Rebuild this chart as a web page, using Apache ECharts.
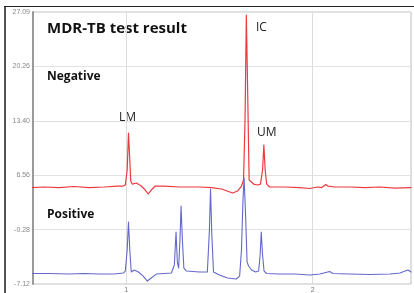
<!DOCTYPE html>
<html><head><meta charset="utf-8">
<script src="https://cdn.jsdelivr.net/npm/echarts@6/dist/echarts.min.js"></script>
<style>html,body{margin:0;padding:0;background:#fff}#c{width:414px;height:293px}</style>
</head><body><div id="c"></div>
<script>
const yTickLabels = ['-7.12', '-0.28', '6.56', '13.40', '20.26', '27.09'];
const xTickLabels = {1: '1', 2: '2'};
const yMin = -7.12, yMax = 27.09;
const xMin = 0.5, xMax = 2.527;

const redX = [0.495,0.559,0.640,0.720,0.801,0.882,0.952,0.984,0.995,1.005,1.012,1.019,1.024,1.032,1.054,1.081,1.102,1.118,1.134,1.156,1.204,1.285,1.392,1.457,1.511,1.570,1.597,1.618,1.629,1.637,1.644,1.651,1.659,1.667,1.683,1.704,1.720,1.731,1.738,1.745,1.753,1.769,1.849,1.930,1.984,2.027,2.048,2.070,2.081,2.118,2.199,2.280,2.360,2.441,2.527];
const redY = [5.01,5.08,5.01,5.14,5.01,5.08,5.20,5.20,5.33,7.22,11.87,8.47,5.83,5.45,5.58,5.20,4.70,4.20,4.70,5.20,5.20,5.08,5.08,5.01,4.83,4.32,4.57,5.20,5.96,13.51,26.71,17.28,5.96,5.71,5.45,5.33,5.45,7.22,10.36,7.22,5.45,5.08,5.08,5.01,4.89,5.08,5.01,5.39,5.20,5.08,5.08,5.01,5.08,4.95,5.01];

const blueX = [0.495,0.586,0.694,0.774,0.855,0.935,0.984,0.995,1.005,1.012,1.019,1.027,1.043,1.065,1.091,1.113,1.134,1.161,1.204,1.242,1.258,1.267,1.274,1.281,1.288,1.294,1.301,1.309,1.323,1.392,1.435,1.446,1.452,1.459,1.468,1.500,1.543,1.590,1.608,1.618,1.626,1.632,1.640,1.648,1.656,1.672,1.694,1.710,1.718,1.724,1.731,1.739,1.753,1.823,1.903,1.984,2.038,2.070,2.091,2.108,2.199,2.306,2.414,2.468,2.495,2.511,2.527];
const blueY = [-5.80,-5.80,-5.87,-5.80,-5.87,-5.87,-5.74,-5.49,-2.85,0.67,-2.85,-5.61,-5.36,-5.61,-6.12,-6.75,-6.37,-5.87,-5.80,-5.74,-4.73,-0.58,-4.36,-5.11,-1.59,2.69,-1.59,-5.11,-5.49,-5.61,-5.61,-0.33,4.83,-0.96,-5.61,-5.99,-6.37,-6.49,-6.12,-2.85,3.44,6.21,1.56,-4.36,-4.86,-5.36,-5.61,-5.49,-3.48,-0.58,-3.48,-5.49,-5.80,-5.87,-5.87,-5.99,-5.87,-5.68,-5.55,-5.80,-5.87,-5.93,-5.87,-5.74,-5.49,-5.36,-5.61];

const pairs = (xs, ys) => xs.map((x, i) => [x, ys[i]]);

const chart = echarts.init(document.getElementById('c'), null, {renderer: 'canvas'});
chart.setOption({
  animation: false,
  backgroundColor: '#fff',
  grid: {left: 33, top: 12, right: 3, bottom: 9, show: true, borderColor: '#c0c0c0', borderWidth: 1,
    outerBoundsMode: 'none', containLabel: false},
  xAxis: {
    type: 'value', min: xMin, max: xMax, interval: 0.5,
    axisLine: {show: false},
    axisTick: {show: false},
    axisLabel: {fontSize: 7, color: '#777', margin: 3, fontFamily: 'Liberation Sans',
      formatter: v => xTickLabels[v] || '', showMinLabel: false, showMaxLabel: false},
    splitLine: {show: true, lineStyle: {color: ['rgba(0,0,0,0)', '#dcdcdc'], width: 1}}
  },
  yAxis: [{
    type: 'value', min: 0, max: 5, interval: 1,
    name: 'RFU', nameLocation: 'middle', nameGap: 17, nameRotate: 90,
    nameTextStyle: {fontSize: 6, color: '#888', fontFamily: 'Liberation Sans'},
    axisLine: {show: true, lineStyle: {color: '#9a9a9a', width: 2}},
    axisTick: {show: false},
    axisLabel: {fontSize: 7, color: '#888', margin: 3, fontFamily: 'Liberation Sans',
      formatter: v => yTickLabels[Math.round(v)]},
    splitLine: {show: true, lineStyle: {color: '#e2e2e2', width: 1}}
  }, {
    type: 'value', min: yMin, max: yMax, show: false, splitLine: {show: false}
  }],
  series: [{
    type: 'line', yAxisIndex: 1, data: pairs(blueX, blueY), showSymbol: false,
    lineStyle: {color: '#6468cc', width: 1.1, join: 'round', cap: 'round'}, z: 2
  }, {
    type: 'line', yAxisIndex: 1, data: pairs(redX, redY), showSymbol: false,
    lineStyle: {color: '#ee3a3e', width: 1.2, join: 'round', cap: 'round'}, z: 3
  }],
  graphic: [
    {type: 'line', shape: {x1: 5, y1: 6, x2: 5, y2: 293}, style: {stroke: '#555', lineWidth: 2}},
    {type: 'line', shape: {x1: 4, y1: 6.5, x2: 414, y2: 6.5}, style: {stroke: '#222', lineWidth: 1}},
    {type: 'text', left: 47, top: 21, style: {text: 'MDR-TB test result', font: 'bold 15px "Open Sans", sans-serif', fill: '#111'}},
    {type: 'text', left: 47, top: 71, style: {text: 'Negative', font: 'bold 12px "Open Sans", sans-serif', fill: '#111'}},
    {type: 'text', left: 47, top: 209, style: {text: 'Positive', font: 'bold 12px "Open Sans", sans-serif', fill: '#111'}},
    {type: 'text', left: 119, top: 112, style: {text: 'LM', font: '12px "Open Sans", sans-serif', fill: '#222'}},
    {type: 'text', left: 256, top: 22, style: {text: 'IC', font: '12px "Open Sans", sans-serif', fill: '#222'}},
    {type: 'text', left: 257, top: 127, style: {text: 'UM', font: '12px "Open Sans", sans-serif', fill: '#222'}}
  ]
});
</script></body></html>
